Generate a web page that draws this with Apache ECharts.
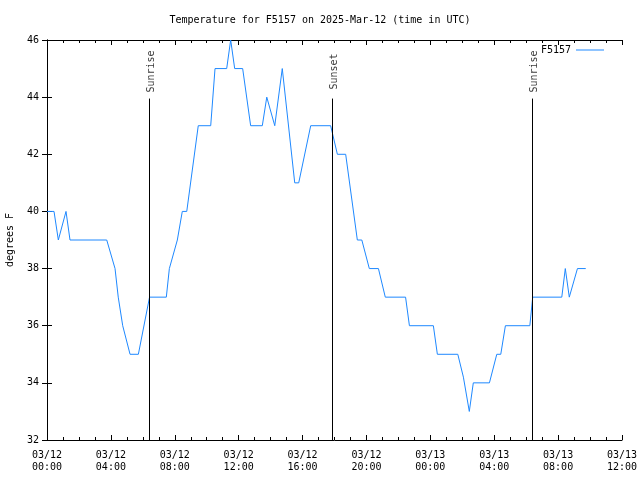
<!DOCTYPE html>
<html>
<head>
<meta charset="utf-8">
<script src="https://cdn.jsdelivr.net/npm/echarts@6/dist/echarts.min.js"></script>
<style>html,body{margin:0;padding:0;background:#fff}#c{width:640px;height:480px}</style>
</head>
<body>
<div id="c"></div>
<script>
// hours since 2025-03-12 00:00 UTC
const timesH = [0, 0.44, 0.71, 1.19, 1.44, 3.74, 4.26, 4.46, 4.74, 5.20, 5.72, 6.42, 7.47, 7.66, 8.16, 8.47, 8.75, 9.47, 10.25, 10.52, 11.25, 11.50, 11.75, 12.25, 12.75, 13.48, 13.76, 14.26, 14.73, 15.51, 15.76, 16.51, 17.76, 18.18, 18.70, 19.43, 19.71, 20.18, 20.75, 21.18, 22.45, 22.69, 24.19, 24.44, 25.72, 26.07, 26.44, 26.69, 27.70, 28.16, 28.41, 28.70, 30.23, 30.41, 32.23, 32.45, 32.70, 33.21, 33.73];
const tempsF = [40, 40, 39, 40, 39, 39, 38, 37, 36, 35, 35, 37, 37, 38, 39, 40, 40, 43, 43, 45, 45, 46, 45, 45, 43, 43, 44, 43, 45, 41, 41, 43, 43, 42, 42, 39, 39, 38, 38, 37, 37, 36, 36, 35, 35, 34.2, 33, 34, 34, 35, 35, 36, 36, 37, 37, 38, 37, 38, 38];
const xTickLabels = ['03/12\n00:00', '03/12\n04:00', '03/12\n08:00', '03/12\n12:00', '03/12\n16:00', '03/12\n20:00', '03/13\n00:00', '03/13\n04:00', '03/13\n08:00', '03/13\n12:00'];
const sunTimes = [6.41, 17.87, 30.39];
const sunLabels = ['Sunrise', 'Sunset', 'Sunrise'];
const sunLineTop = 43.95;
const sunLabelAt = 44.9;
const seriesName = 'F5157';

const mono = 'DejaVu Sans Mono';
const chart = echarts.init(document.getElementById('c'), null, {renderer: 'canvas'});
const xCommon = {
  type: 'value', min: 0, max: 36, interval: 4,
  axisLine: {show: true, lineStyle: {color: '#000', width: 1}},
  axisTick: {show: true, inside: true, length: 5, lineStyle: {color: '#000'}},
  minorTick: {show: true, splitNumber: 4, length: 3, lineStyle: {color: '#000'}},
  splitLine: {show: false}, minorSplitLine: {show: false}
};
const yCommon = {
  type: 'value', min: 32, max: 46, interval: 2,
  axisLine: {show: true, lineStyle: {color: '#000', width: 1}},
  axisTick: {show: true, inside: true, length: 5, lineStyle: {color: '#000'}},
  splitLine: {show: false}
};
chart.setOption({
  animation: false,
  backgroundColor: '#fff',
  textStyle: {fontFamily: mono},
  title: {
    text: 'Temperature for F5157 on 2025-Mar-12 (time in UTC)',
    left: 'center', top: 10,
    textStyle: {fontFamily: mono, fontSize: 10, fontWeight: 'normal', color: '#000'}
  },
  legend: {
    data: [{name: seriesName, icon: 'rect'}], right: 31, top: 40, align: 'right',
    itemWidth: 28, itemHeight: 1, itemGap: 8,
    textStyle: {fontFamily: mono, fontSize: 10, color: '#000'}
  },
  grid: {left: 47, right: 18, top: 40, bottom: 40, containLabel: false, outerBoundsMode: 'none'},
  xAxis: [
    Object.assign({}, xCommon, {
      position: 'bottom',
      axisLabel: {
        show: true, color: '#000', fontFamily: mono, fontSize: 10, lineHeight: 12, margin: 9,
        formatter: v => xTickLabels[Math.round(v / 4)] || ''
      }
    }),
    Object.assign({}, xCommon, {position: 'top', axisLabel: {show: false}})
  ],
  yAxis: [
    Object.assign({}, yCommon, {
      position: 'left',
      name: 'degrees F', nameLocation: 'middle', nameGap: 32, nameRotate: 90,
      nameTextStyle: {fontFamily: mono, fontSize: 10, color: '#000'},
      axisLabel: {show: true, color: '#000', fontFamily: mono, fontSize: 10, margin: 8}
    }),
    Object.assign({}, yCommon, {position: 'right', axisLabel: {show: false}})
  ],
  series: [
    {
      name: seriesName, type: 'line', symbol: 'none',
      lineStyle: {color: '#1e88ff', width: 1}, itemStyle: {color: '#1e88ff'},
      data: timesH.map((t, i) => [t, tempsF[i]]),
      z: 3
    },
    {
      name: 'sun', type: 'line', data: [], symbol: 'none', silent: true,
      markLine: {
        silent: true, symbol: ['none', 'none'], animation: false,
        lineStyle: {color: '#000', width: 1, type: 'solid'},
        label: {show: false},
        data: sunTimes.map(t => [{coord: [t, 32]}, {coord: [t, sunLineTop]}])
      },
      z: 2
    },
    {
      name: 'sunText', type: 'scatter', symbolSize: 0, silent: true,
      data: sunTimes.map(t => [t, sunLabelAt]),
      label: {
        show: true, position: 'inside', rotate: 90, color: '#000', offset: [0, 2],
        fontFamily: mono, fontSize: 10,
        formatter: p => sunLabels[p.dataIndex]
      }
    }
  ]
});
</script>
</body>
</html>
